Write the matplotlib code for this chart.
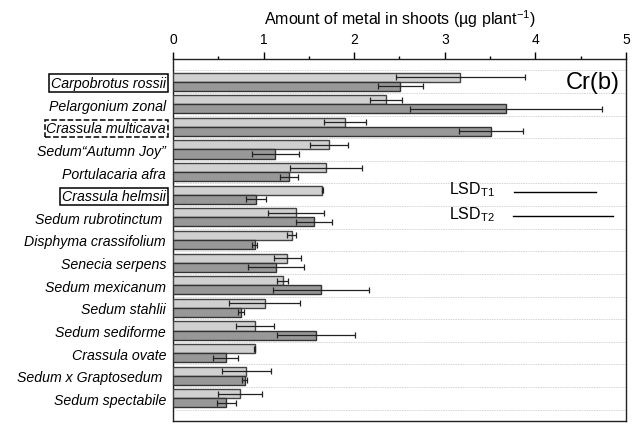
import matplotlib
matplotlib.use('Agg')
import matplotlib.pyplot as plt
import numpy as np

plt.rcParams['font.family'] = ['Liberation Sans', 'DejaVu Sans']

# especies (de cima para baixo)
especies = ['Carpobrotus rossii', 'Pelargonium zonal', 'Crassula multicava',
            'Sedum\u201cAutumn Joy\u201d', 'Portulacaria afra', 'Crassula helmsii',
            'Sedum rubrotinctum ', 'Disphyma crassifolium', 'Senecia serpens',
            'Sedum mexicanum', 'Sedum stahlii', 'Sedum sediforme', 'Crassula ovate',
            'Sedum x Graptosedum ', 'Sedum spectabile']

# Cr nas partes aereas (ug/planta), tratamentos T1 e T2
t1 = [3.17, 2.35, 1.90, 1.72, 1.69, 1.65, 1.36, 1.31, 1.26, 1.21, 1.01, 0.90, 0.90, 0.81, 0.74]
t1_err = [0.71, 0.18, 0.23, 0.21, 0.40, 0.01, 0.31, 0.05, 0.15, 0.06, 0.39, 0.21, 0.01, 0.27, 0.24]
t2 = [2.51, 3.68, 3.51, 1.13, 1.28, 0.92, 1.56, 0.90, 1.14, 1.63, 0.75, 1.58, 0.58, 0.79, 0.59]
t2_err = [0.25, 1.06, 0.35, 0.26, 0.10, 0.11, 0.20, 0.03, 0.31, 0.53, 0.03, 0.43, 0.14, 0.03, 0.10]

lsd = [0.91, 1.11]  # LSD T1, T2

caixa_solida = ['Carpobrotus rossii', 'Crassula helmsii']
caixa_tracejada = ['Crassula multicava']

fig = plt.figure(figsize=(6.37, 4.27), dpi=100)
ax = fig.add_axes([0.2716, 0.0117, 0.7111, 0.8478])

y = np.arange(len(especies))
h = 0.4
eb = dict(ecolor='#222222', elinewidth=0.9, capsize=2.4, capthick=0.9)
ax.barh(y - h / 2, t1, height=h, color='#d0d0d0', edgecolor='#444444', linewidth=1.0,
        xerr=t1_err, error_kw=eb, zorder=3)
ax.barh(y + h / 2, t2, height=h, color='#989898', edgecolor='#333333', linewidth=1.0,
        xerr=t2_err, error_kw=eb, zorder=3)

# linhas tracejadas entre grupos
for g in np.arange(-0.5, len(especies), 1.0):
    ax.axhline(g, color='#d4d4d4', lw=0.7, ls=(0, (1.5, 1)), zorder=1)

ax.set_xlim(0, 5)
ax.set_ylim(len(especies), -1)

ax.xaxis.tick_top()
ax.xaxis.set_label_position('top')
ax.set_xticks(np.arange(0, 6, 1))
ax.set_xticks(np.arange(0, 5.01, 0.5), minor=True)
ax.tick_params(axis='x', which='major', direction='out', length=5, width=1, labelsize=10, pad=4)
ax.tick_params(axis='x', which='minor', direction='out', length=2.5, width=1)
ax.set_xlabel('Amount of metal in shoots (\u00b5g plant$^{\\mathregular{-1}}$)', fontsize=11.5, labelpad=6)

ax.set_yticks(y)
ax.set_yticklabels(especies, fontstyle='italic', fontsize=10.2)
ax.tick_params(axis='y', length=0, pad=5)
for lbl in ax.get_yticklabels():
    nome = lbl.get_text()
    if nome in caixa_solida:
        lbl.set_bbox(dict(boxstyle='square,pad=0.12', fc='white', ec='black', lw=1.1))
    elif nome in caixa_tracejada:
        lbl.set_bbox(dict(boxstyle='square,pad=0.12', fc='white', ec='black', lw=1.1, ls='--'))

for s in ax.spines.values():
    s.set_linewidth(1.0)
    s.set_color('#222222')

ax.text(4.93, 0.0, 'Cr(b)', fontsize=17, ha='right', va='center')

# LSD
ax.text(3.05, 4.75, 'LSD$_{\\mathregular{T1}}$', fontsize=11.5, ha='left', va='center')
ax.text(3.05, 5.85, 'LSD$_{\\mathregular{T2}}$', fontsize=11.5, ha='left', va='center')
ax.plot([3.76, 3.76 + lsd[0]], [4.87, 4.87], color='black', lw=1.0)
ax.plot([3.75, 3.75 + lsd[1]], [5.96, 5.96], color='black', lw=1.0)

plt.savefig('out.png', dpi=100)
